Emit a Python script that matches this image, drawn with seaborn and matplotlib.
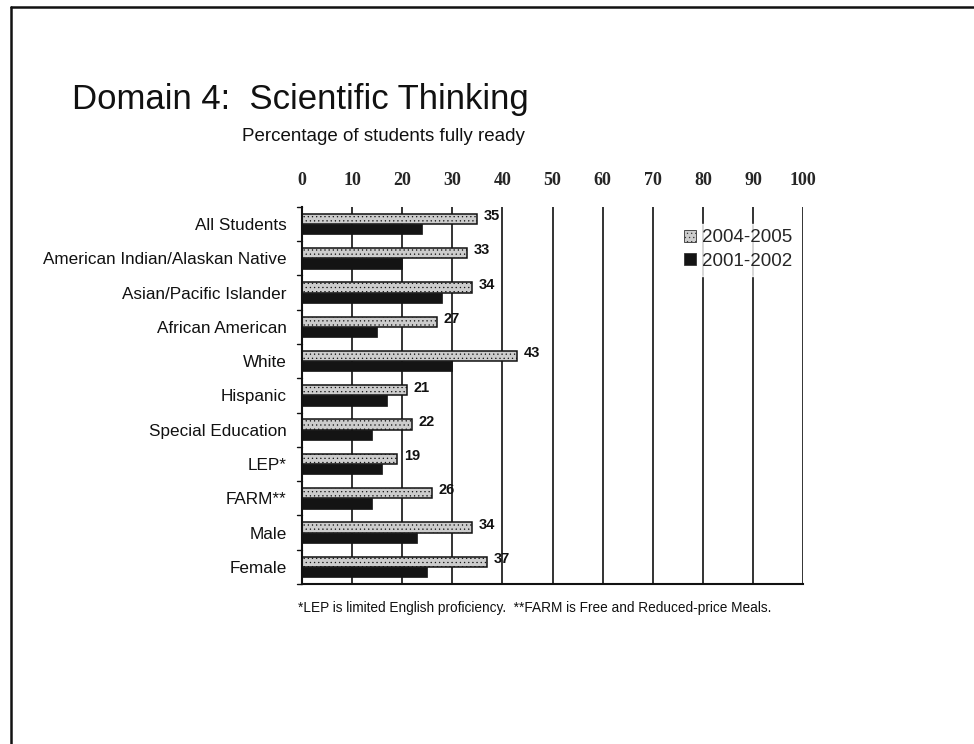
import matplotlib
matplotlib.use("Agg")
import matplotlib.pyplot as plt
from matplotlib.lines import Line2D
from matplotlib.patches import Patch
import seaborn as sns
import pandas as pd

categories = ["All Students", "American Indian/Alaskan Native", "Asian/Pacific Islander",
              "African American", "White", "Hispanic", "Special Education", "LEP*",
              "FARM**", "Male", "Female"]
series_names = ["2004-2005", "2001-2002"]
values_2004 = [35, 33, 34, 27, 43, 21, 22, 19, 26, 34, 37]
values_2001 = [24, 20, 28, 15, 30, 17, 14, 16, 14, 23, 25]
x_ticks = [0, 10, 20, 30, 40, 50, 60, 70, 80, 90, 100]

df = pd.DataFrame({
    "Group": categories * 2,
    "Year": [series_names[0]] * len(categories) + [series_names[1]] * len(categories),
    "Value": values_2004 + values_2001,
})

sns.set_theme(style="white")
plt.rcParams["font.family"] = ["Liberation Sans", "DejaVu Sans"]
plt.rcParams["hatch.linewidth"] = 0.4

fig = plt.figure(figsize=(9.74, 7.44), dpi=100)
ax = fig.add_axes([0.310, 0.215, 0.5145, 0.507])

palette = {series_names[0]: "#cccccc", series_names[1]: "#141414"}
sns.barplot(data=df, y="Group", x="Value", hue="Year", order=categories,
            hue_order=series_names, palette=palette, orient="h",
            width=0.6, ax=ax, legend=False, saturation=1)

n = len(categories)
for i, p in enumerate(ax.patches[:2 * n]):
    if i < n:
        p.set_edgecolor("#111111")
        p.set_linewidth(1.1)
        p.set_hatch("....")
    else:
        p.set_edgecolor("#141414")
        p.set_linewidth(0.5)

# value labels for 2004-2005
for i, v in enumerate(values_2004):
    p = ax.patches[i]
    yc = p.get_y() + p.get_height() / 2
    ax.text(v + 1.3, yc - 0.08, str(v), fontsize=10.5, fontweight="bold",
            ha="left", va="center", color="#111111")

ax.set_xlim(0, 100)
ax.set_ylim(n - 0.5, -0.5)
ax.set_xticks(x_ticks)
ax.xaxis.tick_top()
ax.set_xticklabels([str(t) for t in x_ticks], family=["Liberation Serif"],
                   fontweight="bold", fontsize=13)
ax.tick_params(axis="x", length=0, pad=13)
ax.tick_params(axis="y", length=0, pad=11, labelsize=12.3)
for lab in ax.get_yticklabels():
    lab.set_color("#111111")
ax.set_xlabel("")
ax.set_ylabel("")

# vertical gridlines
for t in x_ticks[1:]:
    ax.axvline(t, color="#111111", lw=1.2, zorder=0)

# left tick marks between categories
for k in range(n + 1):
    y = k - 0.5
    ax.plot([-1.0, 0], [y, y], color="#111111", lw=1.0, clip_on=False)

for s in ["top", "right"]:
    ax.spines[s].set_visible(False)
ax.spines["left"].set_color("#111111")
ax.spines["left"].set_linewidth(1.5)
ax.spines["bottom"].set_color("#111111")
ax.spines["bottom"].set_linewidth(1.5)

# legend
handles = [Patch(facecolor=palette[s], edgecolor="#333333", linewidth=0.6,
                 hatch=("...." if s == series_names[0] else None)) for s in series_names]
leg = ax.legend(handles, series_names, loc="upper left", bbox_to_anchor=(0.733, 0.98),
                frameon=True, fontsize=13.5, handlelength=0.6, handleheight=0.6,
                handletextpad=0.35, labelspacing=0.35, borderpad=0.3)
leg.get_frame().set_facecolor("white")
leg.get_frame().set_edgecolor("white")

# titles
fig.text(0.074, 0.8535, "Domain 4:  Scientific Thinking", fontsize=25, color="#111111",
         ha="left", va="baseline")
fig.text(0.2485, 0.8105, "Percentage of students fully ready", fontsize=13.5, color="#111111",
         ha="left", va="baseline")
fig.text(0.306, 0.178, "*LEP is limited English proficiency.  **FARM is Free and Reduced-price Meals.",
         fontsize=9.8, color="#111111", ha="left", va="baseline")

# slide frame
fig.add_artist(Line2D([0.011, 1.0], [0.991, 0.991], transform=fig.transFigure,
                      color="#111111", lw=1.8))
fig.add_artist(Line2D([0.011, 0.011], [0.0, 0.991], transform=fig.transFigure,
                      color="#111111", lw=1.8))

fig.savefig("out.png", dpi=100)
